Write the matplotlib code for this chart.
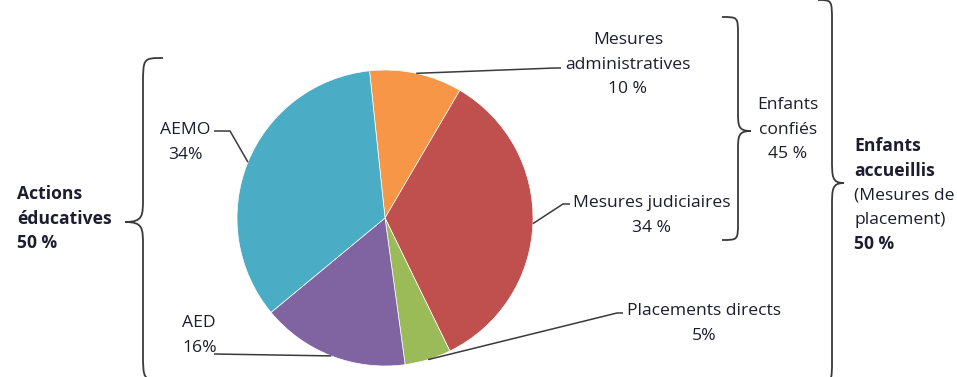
import matplotlib
matplotlib.use("Agg")
import numpy as np
import matplotlib.pyplot as plt
from matplotlib.path import Path
from matplotlib.patches import PathPatch

# ---- data -------------------------------------------------------------
categories = ["Mesures administratives", "Mesures judiciaires",
              "Placements directs", "AED", "AEMO"]
shares = [10, 34, 5, 16, 34]
colors = ["#F79646", "#C0504D", "#9BBB59", "#8064A2", "#4BACC6"]

label_lines = {
    "Mesures administratives": ["Mesures", "administratives", "10 %"],
    "Mesures judiciaires": ["Mesures judiciaires", "34 %"],
    "Placements directs": ["Placements directs", "5%"],
    "AED": ["AED", "16%"],
    "AEMO": ["AEMO", "34%"],
}
group_confies = ["Enfants", "confiés", "45 %"]
group_accueillis = ["Enfants", "accueillis", "(Mesures de", "placement)", "50 %"]
group_educatives = ["Actions", "éducatives", "50 %"]

# ---- figure in pixel units (y measured downward from the top) ----------
W, H = 957, 377
fig = plt.figure(figsize=(W / 100, H / 100), dpi=100)
ax = fig.add_axes([0, 0, 1, 1])

def Y(y):
    return H - y

FONT = "Open Sans"
TXT = "#1d1d30"
LINE = "#3a3a3a"
FS = 12.6
LS = 24.6  # line pitch in px

def block(lines, x, y0, ha="center", weights=None, xs=None):
    for i, s in enumerate(lines):
        w = weights[i] if weights else "normal"
        xx = xs[i] if xs else x
        ax.text(xx, Y(y0 + i * LS), s, ha=ha, va="center", fontsize=FS,
                family=FONT, color=TXT, fontweight=w)

# ---- pie -----------------------------------------------------------------
cx, cy, R = 385, 218, 148
wedges, _ = ax.pie(shares, colors=colors, startangle=96, counterclock=False,
                   center=(cx, Y(cy)), radius=R, frame=True,
                   wedgeprops=dict(edgecolor="white", linewidth=0.5))
ax.set_xlim(0, W)
ax.set_ylim(0, H)
ax.set_aspect("equal")
ax.axis("off")

def edge_point(w):
    a = np.deg2rad((w.theta1 + w.theta2) / 2)
    return cx + R * np.cos(a), cy - R * np.sin(a)

mid = {c: edge_point(w) for c, w in zip(categories, wedges)}

def leader(pts):
    xs = [p[0] for p in pts]
    ys = [Y(p[1]) for p in pts]
    ax.plot(xs, ys, color=LINE, lw=1.1, solid_capstyle="butt")

# leader lines from the wedges to their labels
px, py = mid["Mesures administratives"]
leader([(px, py), (555, 68), (561, 68)])
px, py = mid["Mesures judiciaires"]
leader([(px, py), (563, 204), (570, 204)])
px, py = mid["Placements directs"]
leader([(px, py), (617, 313), (623, 313)])
px, py = mid["AED"]
leader([(px, py), (214, 354)])
px, py = mid["AEMO"]
leader([(px, py), (230, 131), (214, 131)])

# ---- labels ---------------------------------------------------------------
block(label_lines["Mesures administratives"], 628, 40)
block(label_lines["Mesures judiciaires"], 652, 203)
block(label_lines["Placements directs"], 704, 311)
block(label_lines["AED"], 182, 323, ha="left")
block(label_lines["AEMO"], 160, 130, ha="left", xs=[160, 168])

block(group_confies, 788, 105)
block(group_accueillis, 854, 146, ha="left",
      weights=["bold", "bold", "normal", "normal", "bold"])
block(group_educatives, 17, 194, ha="left", weights=["bold"] * 3)

# ---- curly braces ---------------------------------------------------------
def brace(x_end, x_bar, x_tip, y_top, y_tip, y_bot, r_end=28, r_tip=24):
    verts = [
        (x_end, y_top),
        (x_bar, y_top), (x_bar, y_top), (x_bar, y_top + r_end),
        (x_bar, y_tip - r_tip),
        (x_bar, y_tip - r_tip * 0.25), (x_bar, y_tip), (x_tip, y_tip),
        (x_bar, y_tip), (x_bar, y_tip + r_tip * 0.25), (x_bar, y_tip + r_tip),
        (x_bar, y_bot - r_end),
        (x_bar, y_bot), (x_bar, y_bot), (x_end, y_bot),
    ]
    codes = ([Path.MOVETO] + [Path.CURVE4] * 3 + [Path.LINETO]
             + [Path.CURVE4] * 6 + [Path.LINETO] + [Path.CURVE4] * 3)
    verts = [(x, Y(y)) for x, y in verts]
    ax.add_patch(PathPatch(Path(verts, codes), fill=False,
                           edgecolor=LINE, lw=1.3))

brace(163, 143, 125, 58, 222, 380)
brace(722, 738, 751, 17, 131, 240, r_end=18, r_tip=20)
brace(818, 832, 844, 0, 183, 382, r_end=22, r_tip=24)

fig.savefig("out.png", dpi=100, facecolor="white")
